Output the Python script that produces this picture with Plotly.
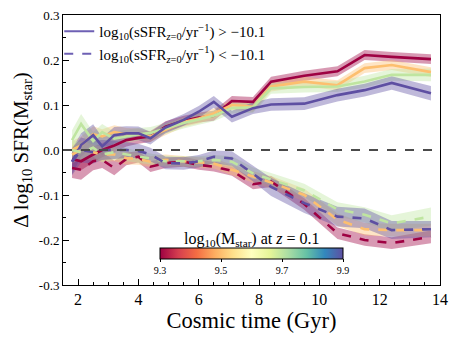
import plotly.graph_objects as go
from plotly.colors import sample_colorscale

# cosmic time of the snapshots (Gyr)
t_gyr = [1.8, 2.1, 2.5, 2.8, 3.2, 3.6, 4.0, 4.4, 4.9, 5.5, 6.0, 6.5, 7.1, 7.8, 8.4, 9.5, 10.6, 11.5, 12.4, 13.7]

mass_bins = [9.3, 9.5, 9.7, 9.9]

# high sSFR (solid lines)
hi_93 = [-0.02, -0.025, -0.01, 0.0, 0.01, 0.022, 0.027, 0.03, 0.052, 0.065, 0.072, 0.076, 0.109, 0.107, 0.152, 0.165, 0.175, 0.211, 0.207, 0.202]
hi_95 = [0.0, 0.01, 0.035, 0.03, 0.04, 0.035, 0.035, 0.03, 0.045, 0.062, 0.07, 0.081, 0.1, 0.096, 0.141, 0.152, 0.144, 0.182, 0.189, 0.173]
hi_97 = [0.022, 0.058, 0.02, 0.04, 0.025, 0.03, 0.035, 0.038, 0.048, 0.06, 0.068, 0.076, 0.093, 0.095, 0.137, 0.14, 0.141, 0.152, 0.167, 0.167]
hi_99 = [-0.026, 0.011, 0.033, 0.008, 0.033, 0.037, 0.037, 0.026, 0.05, 0.067, 0.085, 0.107, 0.074, 0.093, 0.101, 0.103, 0.122, 0.133, 0.149, 0.126]

# low sSFR (dashed lines)
lo_93 = [-0.04, -0.044, -0.025, -0.022, -0.04, -0.02, -0.015, -0.037, -0.029, -0.026, -0.033, -0.037, -0.046, -0.076, -0.07, -0.12, -0.185, -0.2, -0.207, -0.193]
lo_95 = [-0.01, 0.0, -0.005, -0.01, -0.01, -0.018, -0.02, -0.026, -0.022, -0.025, -0.028, -0.03, -0.044, -0.06, -0.072, -0.1, -0.155, -0.176, -0.178, -0.178]
lo_97 = [0.0, -0.005, 0.005, -0.01, -0.005, -0.01, -0.015, -0.02, -0.025, -0.025, -0.025, -0.022, -0.026, -0.052, -0.065, -0.09, -0.132, -0.144, -0.163, -0.148]
lo_99 = [-0.026, 0.0, -0.005, 0.0, 0.0, 0.0, -0.002, -0.01, -0.029, -0.03, -0.025, -0.015, -0.019, -0.052, -0.082, -0.118, -0.148, -0.152, -0.178, -0.176]

# half widths of the shaded bands
hi_93_err = [0.02, 0.02, 0.018, 0.016, 0.015, 0.014, 0.013, 0.012, 0.012, 0.011, 0.011, 0.011, 0.011, 0.011, 0.011, 0.011, 0.011, 0.011, 0.011, 0.011]
hi_95_err = [0.02, 0.02, 0.018, 0.016, 0.015, 0.014, 0.013, 0.012, 0.012, 0.011, 0.011, 0.011, 0.011, 0.011, 0.011, 0.011, 0.011, 0.011, 0.011, 0.011]
hi_97_err = [0.022, 0.022, 0.02, 0.018, 0.016, 0.015, 0.014, 0.013, 0.012, 0.012, 0.012, 0.012, 0.012, 0.012, 0.012, 0.012, 0.012, 0.013, 0.013, 0.014]
hi_99_err = [0.028, 0.026, 0.024, 0.02, 0.018, 0.016, 0.015, 0.014, 0.013, 0.013, 0.013, 0.013, 0.013, 0.013, 0.014, 0.014, 0.014, 0.014, 0.015, 0.016]
lo_93_err = [0.022, 0.022, 0.02, 0.018, 0.016, 0.014, 0.013, 0.012, 0.011, 0.011, 0.011, 0.011, 0.011, 0.011, 0.012, 0.013, 0.013, 0.013, 0.013, 0.014]
lo_95_err = [0.02, 0.02, 0.018, 0.016, 0.015, 0.014, 0.013, 0.012, 0.012, 0.011, 0.011, 0.011, 0.012, 0.013, 0.014, 0.014, 0.014, 0.014, 0.014, 0.014]
lo_97_err = [0.022, 0.022, 0.02, 0.018, 0.016, 0.014, 0.013, 0.012, 0.012, 0.011, 0.011, 0.011, 0.012, 0.013, 0.014, 0.015, 0.016, 0.017, 0.018, 0.02]
lo_99_err = [0.03, 0.028, 0.025, 0.022, 0.02, 0.018, 0.016, 0.015, 0.014, 0.014, 0.014, 0.014, 0.016, 0.018, 0.02, 0.022, 0.022, 0.022, 0.02, 0.018]

y_tickvals = [0.3, 0.2, 0.1, 0.0, -0.1, -0.2, -0.3]
y_ticktext = ["0.3", "0.2", "0.1", "0.0", "-0.1", "-0.2", "-0.3"]
x_tickvals = [2, 4, 6, 8, 10, 12, 14]

FONT = "Liberation Serif, Times New Roman, serif"

hi_series = [hi_93, hi_95, hi_97, hi_99]
lo_series = [lo_93, lo_95, lo_97, lo_99]
hi_errs = [hi_93_err, hi_95_err, hi_97_err, hi_99_err]
lo_errs = [lo_93_err, lo_95_err, lo_97_err, lo_99_err]

norm = [(m - mass_bins[0]) / (mass_bins[-1] - mass_bins[0]) for m in mass_bins]
colors = sample_colorscale("Spectral", norm, colortype="tuple")


def rgb(c, a=None):
    r, g, b = [int(round(v * 255)) if v <= 1 else int(v) for v in c]
    if a is None:
        return f"rgb({r},{g},{b})"
    return f"rgba({r},{g},{b},{a})"


fig = go.Figure()

# shaded bands
for series, errs in [(hi_series, hi_errs), (lo_series, lo_errs)]:
    for vals, err, col in zip(series, errs, colors):
        upper = [v + e for v, e in zip(vals, err)]
        lower = [v - e for v, e in zip(vals, err)]
        fig.add_trace(go.Scatter(
            x=t_gyr + t_gyr[::-1], y=upper + lower[::-1],
            fill="toself", fillcolor=rgb(col, 0.4),
            line=dict(width=0), hoverinfo="skip", showlegend=False))

# lines
for series, dash in [(hi_series, "solid"), (lo_series, "dash")]:
    for vals, col in zip(series, colors):
        fig.add_trace(go.Scatter(
            x=t_gyr, y=vals, mode="lines",
            line=dict(color=rgb(col), width=2.6, dash=dash),
            showlegend=False))

fig.add_hline(y=0, line=dict(color="#4a4a4a", width=2, dash="dash"))

# legend entries
legend_col = "rgb(110,96,180)"
fig.add_trace(go.Scatter(
    x=[None], y=[None], mode="lines",
    line=dict(color=legend_col, width=2.2),
    name="log<sub>10</sub>(sSFR<sub><i>z</i>=0</sub>/yr<sup>−1</sup>) > −10.1"))
fig.add_trace(go.Scatter(
    x=[None], y=[None], mode="lines",
    line=dict(color=legend_col, width=2.2, dash="dash"),
    name="log<sub>10</sub>(sSFR<sub><i>z</i>=0</sub>/yr<sup>−1</sup>) < −10.1"))

# colour bar
fig.add_trace(go.Scatter(
    x=[None], y=[None], mode="markers", showlegend=False,
    marker=dict(
        color=[mass_bins[0]], cmin=mass_bins[0], cmax=mass_bins[-1],
        colorscale="Spectral", showscale=True,
        colorbar=dict(
            orientation="h", x=0.5, xanchor="center",
            y=0.03, yanchor="bottom", xpad=0, ypad=0,
            len=183, lenmode="pixels", thickness=11,
            outlinecolor="black", outlinewidth=1,
            tickvals=mass_bins, ticktext=[f"{m:.1f}" for m in mass_bins],
            ticks="outside", ticklen=3, tickcolor="black",
            tickfont=dict(family=FONT, size=10, color="black"),
        ))))

fig.add_annotation(
    text="log<sub>10</sub>(M<sub>star</sub>) at <i>z</i> = 0.1",
    xref="paper", yref="paper", x=0.5, y=0.17,
    xanchor="center", yanchor="middle", showarrow=False,
    font=dict(family=FONT, size=16, color="black"))

fig.update_layout(
    width=458, height=340,
    margin=dict(l=63, r=18, t=15, b=55, autoexpand=False),
    plot_bgcolor="white", paper_bgcolor="white",
    font=dict(family=FONT, color="black"),
    legend=dict(x=-0.01, y=1.0, xanchor="left", yanchor="top",
                bgcolor="rgba(0,0,0,0)", font=dict(family=FONT, size=15),
                itemwidth=30, tracegroupgap=0),
)

fig.update_xaxes(
    range=[1.5, 14], tickvals=x_tickvals, automargin=False,
    showline=True, linecolor="black", linewidth=1, mirror=True,
    ticks="inside", ticklen=6, tickcolor="black",
    minor=dict(dtick=0.5, ticks="inside", ticklen=3, tickcolor="black"),
    showgrid=False, zeroline=False,
    tickfont=dict(family=FONT, size=16),
    title=dict(text="Cosmic time (Gyr)", font=dict(family=FONT, size=22.5), standoff=3),
)
fig.update_yaxes(
    range=[-0.3, 0.3], tickvals=y_tickvals, ticktext=y_ticktext, automargin=False,
    showline=True, linecolor="black", linewidth=1, mirror=True,
    ticks="inside", ticklen=6, tickcolor="black",
    minor=dict(dtick=0.05, ticks="inside", ticklen=3, tickcolor="black"),
    showgrid=False, zeroline=False,
    tickfont=dict(family=FONT, size=13),
    title=dict(text="Δ log<sub>10</sub> SFR(M<sub>star</sub>)", font=dict(family=FONT, size=21), standoff=4),
)

fig.write_html("out.html", config={"displayModeBar": False},
               post_script="document.body.style.margin='0';")
